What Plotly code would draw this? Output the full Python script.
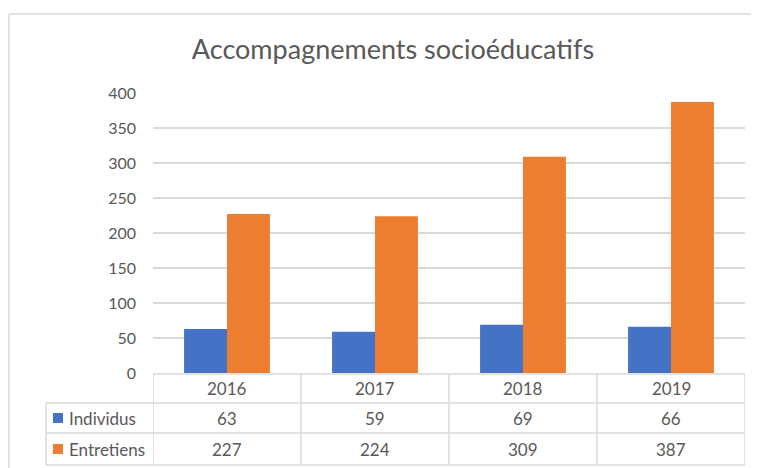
import plotly.graph_objects as go

# Data
years = ["2016", "2017", "2018", "2019"]
individus = [63, 59, 69, 66]
entretiens = [227, 224, 309, 387]
series_names = ["Individus", "Entretiens"]
colors = ["#4472C4", "#ED7D31"]
y_ticks = [0, 50, 100, 150, 200, 250, 300, 350, 400]

# the page body has an 8px margin, so work in page pixels minus that offset
O = 8
W, H = 759 - O, 468 - O
L, T = 153 - O, 93 - O
R = W - (745 - O)
B = H - (373 - O)
plot_h = H - T - B
plot_w = W - L - R

def py(pix):
    # page pixel row -> paper y
    return (H - B - (pix - O)) / plot_h

def px_(pix):
    # page pixel column -> paper x
    return (pix - O - L) / plot_w

font_name = "Lato, Open Sans, sans-serif"
grey_txt = "#595959"
grid_col = "#D9D9D9"

fig = go.Figure()
for name, vals, col in zip(series_names, [individus, entretiens], colors):
    fig.add_trace(go.Bar(x=years, y=vals, name=name, marker=dict(color=col, line=dict(width=0))))

line_style = dict(color=grid_col, width=1.5)
shapes = []
# outer chart border
shapes.append(dict(type="line", xref="paper", yref="paper", x0=px_(9), x1=px_(9), y0=py(14), y1=py(480), line=line_style))
shapes.append(dict(type="line", xref="paper", yref="paper", x0=px_(9), x1=px_(780), y0=py(14), y1=py(14), line=line_style))

# data table grid
shapes.append(dict(type="line", xref="x", yref="paper", x0=-0.5, x1=3.5, y0=py(374), y1=py(374), line=line_style))
for pix in [403, 433, 465]:
    shapes.append(dict(type="line", xref="paper", yref="paper", x0=px_(46), x1=1, y0=py(pix), y1=py(pix), line=line_style))
for b in [-0.5, 0.5, 1.5, 2.5, 3.5]:
    shapes.append(dict(type="line", xref="x", yref="paper", x0=b, x1=b, y0=py(374), y1=py(465), line=line_style))
shapes.append(dict(type="line", xref="paper", yref="paper", x0=px_(46), x1=px_(46), y0=py(403), y1=py(465), line=line_style))

annotations = []
cell_font = dict(family=font_name, size=17, color=grey_txt)
for i, yr in enumerate(years):
    for txt, pix in [(yr, 388), (str(individus[i]), 418), (str(entretiens[i]), 449)]:
        annotations.append(dict(x=i, y=py(pix), xref="x", yref="paper", xanchor="center", yanchor="middle",
                                text=txt, showarrow=False, font=cell_font))
# legend keys inside the table
for name, col, pix in zip(series_names, colors, [418, 449]):
    shapes.append(dict(type="rect", xref="paper", yref="paper", x0=px_(53), x1=px_(63), y0=py(pix - 5), y1=py(pix + 5),
                       fillcolor=col, line=dict(width=0)))
    annotations.append(dict(x=px_(67), y=py(pix), xref="paper", yref="paper", xanchor="left", yanchor="middle",
                            text=name, showarrow=False, font=cell_font))

fig.update_layout(
    width=W, height=H,
    margin=dict(l=L, r=R, t=T, b=B),
    paper_bgcolor="white", plot_bgcolor="white",
    barmode="group", bargap=0.42, bargroupgap=0,
    showlegend=False,
    title=dict(text="Accompagnements socioéducatifs", x=(393 - O) / W, xanchor="center", y=1 - (50 - O) / H, yanchor="middle",
               font=dict(family=font_name, size=27, color=grey_txt)),
    xaxis=dict(type="category", range=[-0.5, 3.5], showticklabels=False, showgrid=False, showline=False,
               zeroline=False, ticks=""),
    yaxis=dict(range=[0, 400], tickvals=y_ticks, showgrid=True, gridcolor=grid_col, gridwidth=1.5,
               zeroline=False, showline=False, ticks="", ticklabelstandoff=16,
               tickfont=dict(family=font_name, size=16, color=grey_txt)),
    shapes=shapes,
    annotations=annotations,
)

fig.write_html("out.html")
